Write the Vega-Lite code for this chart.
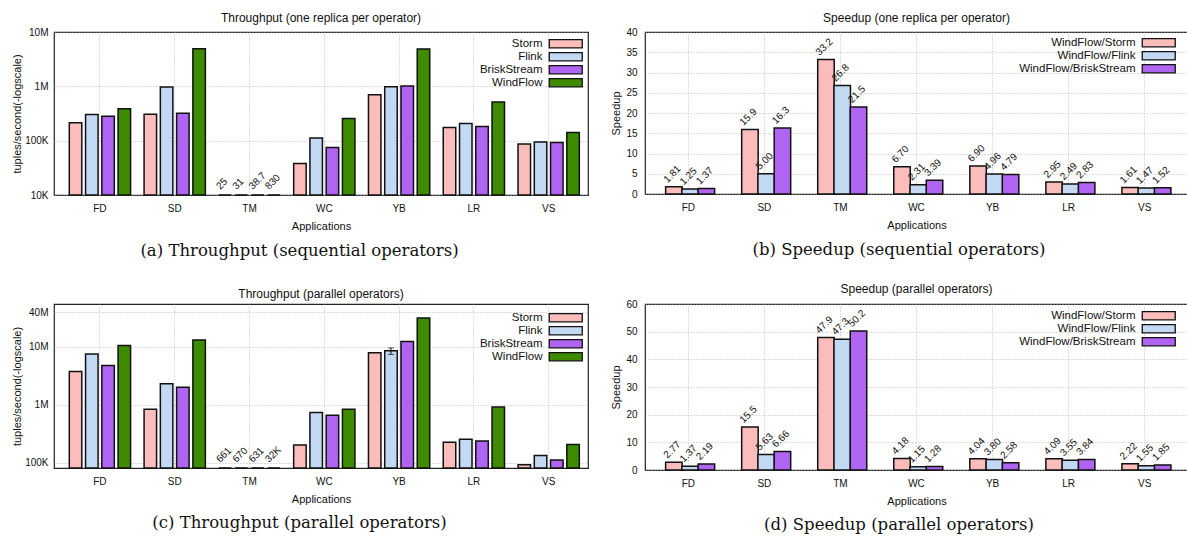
{
  "$schema": "https://vega.github.io/schema/vega-lite/v6.json",
  "padding": {"left": 10, "top": 11, "right": 0, "bottom": 0},
  "spacing": 22,
  "config": {
    "font": "Liberation Sans",
    "view": {"stroke": "#222222", "strokeWidth": 1.2},
    "axis": {
      "grid": true, "gridDash": [1, 2], "gridColor": "#aaaaaa", "gridWidth": 0.8,
      "ticks": false, "domain": false,
      "labelFont": "Liberation Sans", "labelFontSize": 10, "labelColor": "#111111",
      "titleFont": "Liberation Sans", "titleFontSize": 11, "titleFontWeight": "normal", "titleColor": "#111111"
    },
    "legend": {
      "labelFont": "Liberation Sans", "labelFontSize": 11.5, "labelColor": "#111111",
      "symbolType": "M-4,-1H4V1H-4Z", "symbolSize": 68,
      "symbolStrokeColor": "#111111", "symbolStrokeWidth": 1.3, "symbolOpacity": 1,
      "labelAlign": "right", "symbolOffset": 70, "labelOffset": -29,
      "rowPadding": -3.5, "padding": 0, "orient": "none"
    },
    "title": {"font": "Liberation Sans", "fontSize": 12, "fontWeight": "normal", "color": "#111111"},
    "concat": {"spacing": 20}
  },
  "datasets": {
    "tp_seq": [
      {"app": "FD", "sys": "Storm", "v": 213000}, {"app": "FD", "sys": "Flink", "v": 303000}, {"app": "FD", "sys": "BriskStream", "v": 282000}, {"app": "FD", "sys": "WindFlow", "v": 386000},
      {"app": "SD", "sys": "Storm", "v": 305000}, {"app": "SD", "sys": "Flink", "v": 975000}, {"app": "SD", "sys": "BriskStream", "v": 318000}, {"app": "SD", "sys": "WindFlow", "v": 4900000},
      {"app": "TM", "sys": "Storm", "v": 25, "lab": "25"}, {"app": "TM", "sys": "Flink", "v": 31, "lab": "31"}, {"app": "TM", "sys": "BriskStream", "v": 38.7, "lab": "38.7"}, {"app": "TM", "sys": "WindFlow", "v": 830, "lab": "830"},
      {"app": "WC", "sys": "Storm", "v": 38000}, {"app": "WC", "sys": "Flink", "v": 112000}, {"app": "WC", "sys": "BriskStream", "v": 75000}, {"app": "WC", "sys": "WindFlow", "v": 255000},
      {"app": "YB", "sys": "Storm", "v": 703000}, {"app": "YB", "sys": "Flink", "v": 985000}, {"app": "YB", "sys": "BriskStream", "v": 1010000}, {"app": "YB", "sys": "WindFlow", "v": 4850000},
      {"app": "LR", "sys": "Storm", "v": 175000}, {"app": "LR", "sys": "Flink", "v": 207000}, {"app": "LR", "sys": "BriskStream", "v": 182000}, {"app": "LR", "sys": "WindFlow", "v": 515000},
      {"app": "VS", "sys": "Storm", "v": 87000}, {"app": "VS", "sys": "Flink", "v": 95000}, {"app": "VS", "sys": "BriskStream", "v": 93000}, {"app": "VS", "sys": "WindFlow", "v": 141000}
    ],
    "tp_par": [
      {"app": "FD", "sys": "Storm", "v": 3770000}, {"app": "FD", "sys": "Flink", "v": 7570000}, {"app": "FD", "sys": "BriskStream", "v": 4780000}, {"app": "FD", "sys": "WindFlow", "v": 10600000},
      {"app": "SD", "sys": "Storm", "v": 834000}, {"app": "SD", "sys": "Flink", "v": 2300000}, {"app": "SD", "sys": "BriskStream", "v": 2000000}, {"app": "SD", "sys": "WindFlow", "v": 13200000},
      {"app": "TM", "sys": "Storm", "v": 661, "lab": "661"}, {"app": "TM", "sys": "Flink", "v": 670, "lab": "670"}, {"app": "TM", "sys": "BriskStream", "v": 631, "lab": "631"}, {"app": "TM", "sys": "WindFlow", "v": 32000, "lab": "32K"},
      {"app": "WC", "sys": "Storm", "v": 202000}, {"app": "WC", "sys": "Flink", "v": 735000}, {"app": "WC", "sys": "BriskStream", "v": 660000}, {"app": "WC", "sys": "WindFlow", "v": 835000},
      {"app": "YB", "sys": "Storm", "v": 7890000}, {"app": "YB", "sys": "Flink", "v": 8530000, "lo": 7400000, "hi": 9600000}, {"app": "YB", "sys": "BriskStream", "v": 12400000}, {"app": "YB", "sys": "WindFlow", "v": 31600000},
      {"app": "LR", "sys": "Storm", "v": 225000}, {"app": "LR", "sys": "Flink", "v": 253000}, {"app": "LR", "sys": "BriskStream", "v": 237000}, {"app": "LR", "sys": "WindFlow", "v": 912000},
      {"app": "VS", "sys": "Storm", "v": 92000}, {"app": "VS", "sys": "Flink", "v": 133000}, {"app": "VS", "sys": "BriskStream", "v": 111000}, {"app": "VS", "sys": "WindFlow", "v": 207000}
    ],
    "sp_seq": [
      {"app": "FD", "sys": "WindFlow/Storm", "v": 1.81}, {"app": "FD", "sys": "WindFlow/Flink", "v": 1.25}, {"app": "FD", "sys": "WindFlow/BriskStream", "v": 1.37},
      {"app": "SD", "sys": "WindFlow/Storm", "v": 15.9}, {"app": "SD", "sys": "WindFlow/Flink", "v": 5.00}, {"app": "SD", "sys": "WindFlow/BriskStream", "v": 16.3},
      {"app": "TM", "sys": "WindFlow/Storm", "v": 33.2}, {"app": "TM", "sys": "WindFlow/Flink", "v": 26.8}, {"app": "TM", "sys": "WindFlow/BriskStream", "v": 21.5},
      {"app": "WC", "sys": "WindFlow/Storm", "v": 6.70}, {"app": "WC", "sys": "WindFlow/Flink", "v": 2.31}, {"app": "WC", "sys": "WindFlow/BriskStream", "v": 3.39},
      {"app": "YB", "sys": "WindFlow/Storm", "v": 6.90}, {"app": "YB", "sys": "WindFlow/Flink", "v": 4.96}, {"app": "YB", "sys": "WindFlow/BriskStream", "v": 4.79},
      {"app": "LR", "sys": "WindFlow/Storm", "v": 2.95}, {"app": "LR", "sys": "WindFlow/Flink", "v": 2.49}, {"app": "LR", "sys": "WindFlow/BriskStream", "v": 2.83},
      {"app": "VS", "sys": "WindFlow/Storm", "v": 1.61}, {"app": "VS", "sys": "WindFlow/Flink", "v": 1.47}, {"app": "VS", "sys": "WindFlow/BriskStream", "v": 1.52}
    ],
    "sp_par": [
      {"app": "FD", "sys": "WindFlow/Storm", "v": 2.77}, {"app": "FD", "sys": "WindFlow/Flink", "v": 1.37}, {"app": "FD", "sys": "WindFlow/BriskStream", "v": 2.19},
      {"app": "SD", "sys": "WindFlow/Storm", "v": 15.5}, {"app": "SD", "sys": "WindFlow/Flink", "v": 5.63}, {"app": "SD", "sys": "WindFlow/BriskStream", "v": 6.66},
      {"app": "TM", "sys": "WindFlow/Storm", "v": 47.9}, {"app": "TM", "sys": "WindFlow/Flink", "v": 47.3}, {"app": "TM", "sys": "WindFlow/BriskStream", "v": 50.2},
      {"app": "WC", "sys": "WindFlow/Storm", "v": 4.18}, {"app": "WC", "sys": "WindFlow/Flink", "v": 1.15}, {"app": "WC", "sys": "WindFlow/BriskStream", "v": 1.28},
      {"app": "YB", "sys": "WindFlow/Storm", "v": 4.04}, {"app": "YB", "sys": "WindFlow/Flink", "v": 3.80}, {"app": "YB", "sys": "WindFlow/BriskStream", "v": 2.58},
      {"app": "LR", "sys": "WindFlow/Storm", "v": 4.09}, {"app": "LR", "sys": "WindFlow/Flink", "v": 3.55}, {"app": "LR", "sys": "WindFlow/BriskStream", "v": 3.84},
      {"app": "VS", "sys": "WindFlow/Storm", "v": 2.22}, {"app": "VS", "sys": "WindFlow/Flink", "v": 1.55}, {"app": "VS", "sys": "WindFlow/BriskStream", "v": 1.85}
    ]
  },
  "vconcat": [
    {
      "hconcat": [
        {
          "title": {"text": "(a) Throughput (sequential operators)", "orient": "bottom", "anchor": "middle", "font": "DejaVu Serif", "fontSize": 16.5, "offset": 11},
          "resolve": {"scale": {"fill": "independent"}, "legend": {"fill": "independent"}},
          "vconcat": [
            {
              "width": 534, "height": 163,
              "title": {"text": "Throughput (one replica per operator)", "offset": 2, "frame": "group"},
              "data": {"name": "tp_seq"},
              "encoding": {
                "x": {"field": "app", "type": "nominal", "sort": ["FD", "SD", "TM", "WC", "YB", "LR", "VS"],
                      "scale": {"paddingInner": 0.2, "paddingOuter": 0.17, "align": 0.63},
                      "axis": {"title": "Applications", "labelAngle": 0, "labelPadding": 8, "titlePadding": 7, "bandPosition": 0.5}},
                "xOffset": {"field": "sys", "type": "nominal", "sort": ["Storm", "Flink", "BriskStream", "WindFlow"],
                            "scale": {"type": "band", "paddingInner": 0, "paddingOuter": 0.18}},
                "y": {"field": "v", "type": "quantitative",
                      "scale": {"type": "log", "domain": [10000, 10000000], "clamp": true},
                      "axis": {"title": "tuples/second(-logscale)", "values": [10000, 100000, 1000000, 10000000],
                               "labelExpr": "datum.value >= 1000000 ? (datum.value/1000000) + 'M' : (datum.value/1000) + 'K'",
                               "labelPadding": 6, "minExtent": 28, "maxExtent": 28, "titlePadding": 4}}
              },
              "layer": [
                {
                  "mark": {"type": "bar", "stroke": "#111111", "strokeWidth": 1.5, "width": 12.5},
                  "encoding": {
                    "y2": {"datum": 10000},
                    "fill": {"field": "sys", "type": "nominal",
                             "scale": {"domain": ["Storm", "Flink", "BriskStream", "WindFlow"], "range": ["#fbbcbc", "#c3d9f3", "#b064f2", "#3e8b00"]},
                             "legend": {"title": null, "legendX": 436, "legendY": 6}}
                  }
                },
                {
                  "transform": [{"filter": "datum.lab != null"}],
                  "mark": {"type": "text", "angle": -45, "align": "left", "baseline": "bottom", "fontSize": 10, "dx": 0, "dy": -5, "color": "#111111"},
                  "encoding": {"text": {"field": "lab"}}
                }
              ]
            }
          ]
        },
        {
          "title": {"text": "(b) Speedup (sequential operators)", "orient": "bottom", "anchor": "middle", "font": "DejaVu Serif", "fontSize": 16.5, "offset": 11},
          "resolve": {"scale": {"fill": "independent"}, "legend": {"fill": "independent"}},
          "vconcat": [
            {
              "width": 543, "height": 162,
              "title": {"text": "Speedup (one replica per operator)", "offset": 2, "frame": "group"},
              "data": {"name": "sp_seq"},
              "encoding": {
                "x": {"field": "app", "type": "nominal", "sort": ["FD", "SD", "TM", "WC", "YB", "LR", "VS"],
                      "scale": {"paddingInner": 0.26, "paddingOuter": 0.2, "align": 0.5},
                      "axis": {"title": "Applications", "labelAngle": 0, "labelPadding": 8, "titlePadding": 7, "bandPosition": 0.5}},
                "xOffset": {"field": "sys", "type": "nominal", "sort": ["WindFlow/Storm", "WindFlow/Flink", "WindFlow/BriskStream"],
                            "scale": {"type": "band", "paddingInner": 0, "paddingOuter": 0}},
                "y": {"field": "v", "type": "quantitative",
                      "scale": {"domain": [0, 40], "nice": false},
                      "axis": {"title": "Speedup", "values": [0, 5, 10, 15, 20, 25, 30, 35, 40],
                               "labelPadding": 8, "minExtent": 20, "maxExtent": 20, "titlePadding": 4}}
              },
              "layer": [
                {
                  "mark": {"type": "bar", "stroke": "#111111", "strokeWidth": 1.5, "width": 16.5},
                  "encoding": {
                    "fill": {"field": "sys", "type": "nominal",
                             "scale": {"domain": ["WindFlow/Storm", "WindFlow/Flink", "WindFlow/BriskStream"], "range": ["#fbbcbc", "#c3d9f3", "#b064f2"]},
                             "legend": {"title": null, "symbolOffset": 118, "legendX": 390, "legendY": 5}}
                  }
                },
                {
                  "mark": {"type": "text", "angle": -45, "align": "left", "baseline": "bottom", "fontSize": 10, "dx": -2, "dy": -5, "color": "#111111"},
                  "encoding": {"text": {"field": "v", "type": "quantitative", "format": ".3r"}}
                }
              ]
            }
          ]
        }
      ],
      "resolve": {"scale": {"fill": "independent"}, "legend": {"fill": "independent"}}
    },
    {
      "hconcat": [
        {
          "title": {"text": "(c) Throughput (parallel operators)", "orient": "bottom", "anchor": "middle", "font": "DejaVu Serif", "fontSize": 16.5, "offset": 10},
          "resolve": {"scale": {"fill": "independent"}, "legend": {"fill": "independent"}},
          "vconcat": [
            {
              "width": 534, "height": 164,
              "title": {"text": "Throughput (parallel operators)", "offset": 3, "frame": "group"},
              "data": {"name": "tp_par"},
              "encoding": {
                "x": {"field": "app", "type": "nominal", "sort": ["FD", "SD", "TM", "WC", "YB", "LR", "VS"],
                      "scale": {"paddingInner": 0.2, "paddingOuter": 0.17, "align": 0.63},
                      "axis": {"title": "Applications", "labelAngle": 0, "labelPadding": 8, "titlePadding": 7, "bandPosition": 0.5}},
                "xOffset": {"field": "sys", "type": "nominal", "sort": ["Storm", "Flink", "BriskStream", "WindFlow"],
                            "scale": {"type": "band", "paddingInner": 0, "paddingOuter": 0.18}},
                "y": {"field": "v", "type": "quantitative",
                      "scale": {"type": "log", "domain": [81000, 55000000], "clamp": true},
                      "axis": {"title": "tuples/second(-logscale)", "values": [100000, 1000000, 10000000, 40000000],
                               "labelExpr": "datum.value >= 1000000 ? (datum.value/1000000) + 'M' : (datum.value/1000) + 'K'",
                               "labelPadding": 6, "minExtent": 28, "maxExtent": 28, "titlePadding": 4}}
              },
              "layer": [
                {
                  "mark": {"type": "bar", "stroke": "#111111", "strokeWidth": 1.5, "width": 12.5},
                  "encoding": {
                    "y2": {"datum": 81000},
                    "fill": {"field": "sys", "type": "nominal",
                             "scale": {"domain": ["Storm", "Flink", "BriskStream", "WindFlow"], "range": ["#fbbcbc", "#c3d9f3", "#b064f2", "#3e8b00"]},
                             "legend": {"title": null, "legendX": 436, "legendY": 8}}
                  }
                },
                {
                  "transform": [{"filter": "datum.lo != null"}],
                  "mark": {"type": "rule", "color": "#111111", "strokeWidth": 1},
                  "encoding": {"y": {"field": "lo", "type": "quantitative"}, "y2": {"field": "hi"}}
                },
                {
                  "transform": [{"filter": "datum.lo != null"}, {"fold": ["lo", "hi"], "as": ["k", "e"]}],
                  "mark": {"type": "tick", "color": "#111111", "thickness": 1, "size": 6, "orient": "horizontal"},
                  "encoding": {"y": {"field": "e", "type": "quantitative"}}
                },
                {
                  "transform": [{"filter": "datum.lab != null"}],
                  "mark": {"type": "text", "angle": -45, "align": "left", "baseline": "bottom", "fontSize": 10, "dx": 0, "dy": -5, "color": "#111111"},
                  "encoding": {"text": {"field": "lab"}}
                }
              ]
            }
          ]
        },
        {
          "title": {"text": "(d) Speedup (parallel operators)", "orient": "bottom", "anchor": "middle", "font": "DejaVu Serif", "fontSize": 16.5, "offset": 10},
          "resolve": {"scale": {"fill": "independent"}, "legend": {"fill": "independent"}},
          "vconcat": [
            {
              "width": 543, "height": 166,
              "title": {"text": "Speedup (parallel operators)", "offset": 3, "frame": "group"},
              "data": {"name": "sp_par"},
              "encoding": {
                "x": {"field": "app", "type": "nominal", "sort": ["FD", "SD", "TM", "WC", "YB", "LR", "VS"],
                      "scale": {"paddingInner": 0.26, "paddingOuter": 0.2, "align": 0.5},
                      "axis": {"title": "Applications", "labelAngle": 0, "labelPadding": 8, "titlePadding": 7, "bandPosition": 0.5}},
                "xOffset": {"field": "sys", "type": "nominal", "sort": ["WindFlow/Storm", "WindFlow/Flink", "WindFlow/BriskStream"],
                            "scale": {"type": "band", "paddingInner": 0, "paddingOuter": 0}},
                "y": {"field": "v", "type": "quantitative",
                      "scale": {"domain": [0, 60], "nice": false},
                      "axis": {"title": "Speedup", "values": [0, 10, 20, 30, 40, 50, 60],
                               "labelPadding": 8, "minExtent": 20, "maxExtent": 20, "titlePadding": 4}}
              },
              "layer": [
                {
                  "mark": {"type": "bar", "stroke": "#111111", "strokeWidth": 1.5, "width": 16.5},
                  "encoding": {
                    "fill": {"field": "sys", "type": "nominal",
                             "scale": {"domain": ["WindFlow/Storm", "WindFlow/Flink", "WindFlow/BriskStream"], "range": ["#fbbcbc", "#c3d9f3", "#b064f2"]},
                             "legend": {"title": null, "symbolOffset": 118, "legendX": 390, "legendY": 6}}
                  }
                },
                {
                  "mark": {"type": "text", "angle": -45, "align": "left", "baseline": "bottom", "fontSize": 10, "dx": -2, "dy": -5, "color": "#111111"},
                  "encoding": {"text": {"field": "v", "type": "quantitative", "format": ".3r"}}
                }
              ]
            }
          ]
        }
      ],
      "resolve": {"scale": {"fill": "independent"}, "legend": {"fill": "independent"}}
    }
  ],
  "resolve": {"scale": {"fill": "independent"}, "legend": {"fill": "independent"}}
}
